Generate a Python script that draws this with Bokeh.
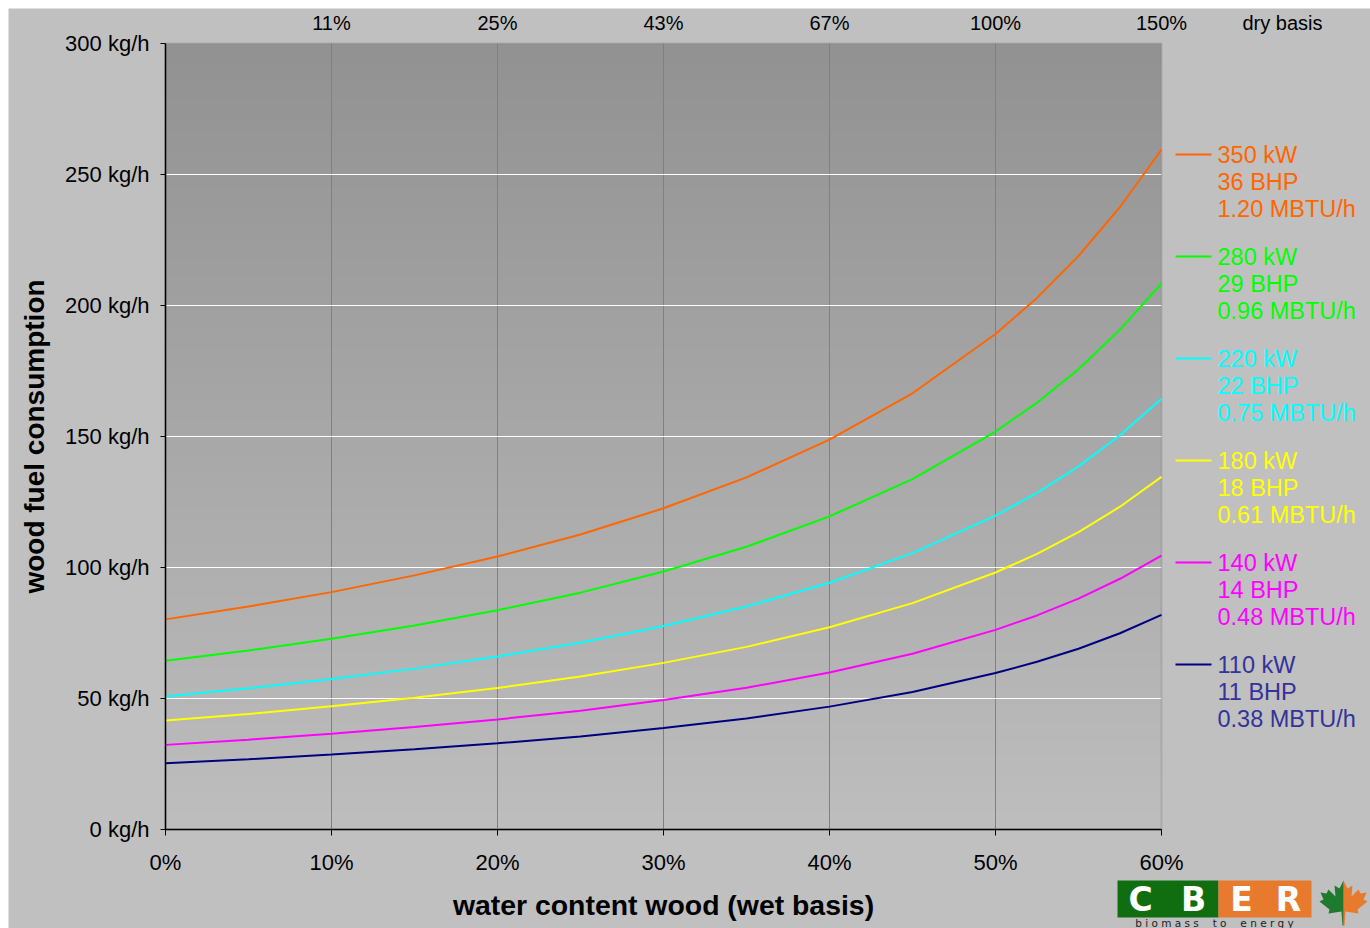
import numpy as np
from bokeh.plotting import figure
from bokeh.models import (Range1d, FixedTicker, LinearAxis, Label, Arrow,
                          BoxAnnotation, PolyAnnotation)
from bokeh.embed import file_html
from bokeh.resources import INLINE

# ---------------- data ----------------
water_wet_pct = [0, 5, 10, 15, 20, 25, 30, 35, 40, 45, 50, 52.5, 55, 57.5, 60]
fuel_350kw = [80.2, 85.1, 90.6, 97.0, 104.2, 112.6, 122.6, 134.4, 148.8, 166.5, 189.1, 202.9, 218.9, 237.6, 259.5]
fuel_280kw = [64.4, 68.3, 72.8, 77.9, 83.7, 90.4, 98.5, 107.9, 119.5, 133.7, 151.9, 162.9, 175.7, 190.8, 208.4]
fuel_220kw = [50.8, 53.9, 57.4, 61.4, 66.0, 71.3, 77.7, 85.1, 94.2, 105.5, 119.8, 128.5, 138.6, 150.5, 164.4]
fuel_180kw = [41.6, 44.1, 47.0, 50.3, 54.0, 58.4, 63.6, 69.7, 77.2, 86.4, 98.1, 105.2, 113.5, 123.2, 134.6]
fuel_140kw = [32.3, 34.3, 36.5, 39.1, 42.0, 45.3, 49.4, 54.1, 59.9, 67.1, 76.2, 81.7, 88.1, 95.7, 104.5]
fuel_110kw = [25.3, 26.8, 28.6, 30.6, 32.9, 35.5, 38.7, 42.4, 46.9, 52.5, 59.7, 64.0, 69.0, 74.9, 81.9]

series_values = [fuel_350kw, fuel_280kw, fuel_220kw, fuel_180kw, fuel_140kw, fuel_110kw]
series_kw = ["350 kW", "280 kW", "220 kW", "180 kW", "140 kW", "110 kW"]
series_bhp = ["36 BHP", "29 BHP", "22 BHP", "18 BHP", "14 BHP", "11 BHP"]
series_mbtu = ["1.20 MBTU/h", "0.96 MBTU/h", "0.75 MBTU/h", "0.61 MBTU/h", "0.48 MBTU/h", "0.38 MBTU/h"]
line_colors = ["#FF6600", "#00FF00", "#00FFFF", "#FFFF00", "#FF00FF", "#000080"]
text_colors = ["#FF6600", "#00FF00", "#00FFFF", "#FFFF00", "#FF00FF", "#333399"]

x_ticks = [0, 10, 20, 30, 40, 50, 60]
x_tick_labels = ["0%", "10%", "20%", "30%", "40%", "50%", "60%"]
dry_ticks = [10, 20, 30, 40, 50, 60]
dry_tick_labels = ["11%", "25%", "43%", "67%", "100%", "150%"]
dry_caption = "dry basis"
y_ticks = [0, 50, 100, 150, 200, 250, 300]
y_tick_labels = ["0 kg/h", "50 kg/h", "100 kg/h", "150 kg/h", "200 kg/h", "250 kg/h", "300 kg/h"]

X_MIN, X_MAX = 0, 60
Y_MIN, Y_MAX = 0, 300

FONT = "Liberation Sans"
BG = "#c0c0c0"

# ---------------- layout helpers (page pixels -> data space) ----------------
PX_X0, PX_X1 = 165, 1161       # plot-area left / right on the page
PX_Y0, PX_Y1 = 829, 43         # plot-area bottom / top on the page
PAGE_W, PAGE_H = 1370, 928
MARGIN = 8


def dx(px):
    return X_MIN + (px - PX_X0) * (X_MAX - X_MIN) / (PX_X1 - PX_X0)


def dy(py):
    return Y_MIN + (PX_Y0 - py) * (Y_MAX - Y_MIN) / (PX_Y0 - PX_Y1)


# the frame covers the whole canvas, so that the axes, legend and logo are
# never clipped; axes/grids are fixed and bounded to the real plot area
p = figure(width=PAGE_W - MARGIN, height=PAGE_H - MARGIN,
           x_range=Range1d(dx(MARGIN), dx(PAGE_W)),
           y_range=Range1d(dy(PAGE_H), dy(MARGIN)),
           output_backend="svg", toolbar_location=None,
           min_border_left=0, min_border_right=0,
           min_border_top=0, min_border_bottom=0,
           background_fill_color=BG, border_fill_color=BG,
           outline_line_color=None)
p.margin = (MARGIN, 0, 0, MARGIN)

# plot-area vertical gradient (dark top -> light bottom)
N = 256
grey = np.linspace(190, 146, N).astype(np.uint8)
img = np.empty((N, 1), dtype=np.uint32)
view = img.view(dtype=np.uint8).reshape((N, 1, 4))
view[:, 0, 0] = grey
view[:, 0, 1] = grey
view[:, 0, 2] = grey
view[:, 0, 3] = 255
p.image_rgba(image=[img], x=X_MIN, y=Y_MIN, dw=X_MAX - X_MIN, dh=Y_MAX - Y_MIN, level="image")

# grids
p.xgrid.ticker = FixedTicker(ticks=x_ticks[1:-1])
p.xgrid.grid_line_color = "#808080"
p.xgrid.grid_line_width = 1
p.ygrid.ticker = FixedTicker(ticks=y_ticks[1:-1])
p.ygrid.grid_line_color = "white"
p.ygrid.grid_line_width = 1
try:
    p.xgrid.cross_bounds = (Y_MIN, Y_MAX)
    p.ygrid.cross_bounds = (X_MIN, X_MAX)
except Exception:
    p.xgrid.visible = False
    p.ygrid.visible = False
    gx = x_ticks[1:-1]
    p.segment(x0=gx, x1=gx, y0=[Y_MIN] * len(gx), y1=[Y_MAX] * len(gx),
              line_color="#808080", line_width=1, level="underlay")
    gy = y_ticks[1:-1]
    p.segment(x0=[X_MIN] * len(gy), x1=[X_MAX] * len(gy), y0=gy, y1=gy,
              line_color="white", line_width=1, level="underlay")

# plot-area border (top / right visible; left / bottom covered by axes)
p.add_layout(BoxAnnotation(left=X_MIN, right=X_MAX, bottom=Y_MIN, top=Y_MAX,
                           fill_alpha=0, line_color="#808080", line_width=2,
                           level="underlay"))

# lines
for vals, col in zip(series_values, line_colors):
    p.line(water_wet_pct, vals, line_color=col, line_width=2)

# bottom axis (fixed at y=0, bounded to the plot area)
xa = p.xaxis[0]
xa.fixed_location = Y_MIN
xa.bounds = (X_MIN, X_MAX)
xa.ticker = FixedTicker(ticks=x_ticks)
xa.major_label_overrides = dict(zip(x_ticks, x_tick_labels))
xa.axis_line_color = "black"
xa.axis_line_width = 1.5
xa.major_tick_line_color = "black"
xa.major_tick_out = 6
xa.major_tick_in = 0
xa.minor_tick_line_color = None
xa.major_label_text_font = FONT
xa.major_label_text_font_size = "22px"
xa.major_label_text_color = "black"
xa.major_label_standoff = 14
xa.axis_label = "water content wood (wet basis)"
xa.axis_label_text_font = FONT
xa.axis_label_text_font_size = "28.4px"
xa.axis_label_text_font_style = "bold"
xa.axis_label_text_color = "black"
xa.axis_label_standoff = 11

# left axis (fixed at x=0, bounded to the plot area)
ya = p.yaxis[0]
ya.fixed_location = X_MIN
ya.bounds = (Y_MIN, Y_MAX)
ya.ticker = FixedTicker(ticks=y_ticks)
ya.major_label_overrides = dict(zip(y_ticks, y_tick_labels))
ya.axis_line_color = "black"
ya.axis_line_width = 1.5
ya.major_tick_line_color = "black"
ya.major_tick_out = 5
ya.major_tick_in = 0
ya.minor_tick_line_color = None
ya.major_label_text_font = FONT
ya.major_label_text_font_size = "22px"
ya.major_label_text_color = "black"
ya.major_label_standoff = 11
ya.axis_label = "wood fuel consumption"
ya.axis_label_text_font = FONT
ya.axis_label_text_font_size = "28px"
ya.axis_label_text_font_style = "bold"
ya.axis_label_text_color = "black"
ya.axis_label_standoff = 12

# top axis: dry-basis moisture, plus its caption (fixed at the plot-area top)
caption_x = dx(1282)
top_ticks = dry_ticks + [caption_x]
top_labels = dry_tick_labels + [dry_caption]
top = LinearAxis(ticker=FixedTicker(ticks=top_ticks),
                 major_label_overrides=dict(zip(top_ticks, top_labels)),
                 fixed_location=Y_MAX)
top.axis_line_color = None
top.major_tick_line_color = None
top.minor_tick_line_color = None
top.major_tick_out = 0
top.major_tick_in = 0
top.major_label_text_font = FONT
top.major_label_text_font_size = "20px"
top.major_label_text_color = "black"
top.major_label_standoff = 10
p.add_layout(top, "above")

# legend (right side)
mark_x0, mark_x1, text_x = dx(1175), dx(1211), dx(1217)
for i in range(len(series_kw)):
    yc_px = 154 + i * 102
    yc = dy(yc_px)
    p.add_layout(Arrow(x_start=mark_x0, y_start=yc, x_end=mark_x1, y_end=yc,
                       start=None, end=None, line_color=line_colors[i], line_width=2))
    for j, t in enumerate([series_kw[i], series_bhp[i], series_mbtu[i]]):
        p.add_layout(Label(x=text_x, y=dy(yc_px + 27 * j), text=t, text_font=FONT,
                           text_font_size="23.5px", text_color=text_colors[i],
                           text_align="left", text_baseline="middle"))

# CBER logo (bottom right)
p.add_layout(BoxAnnotation(left=dx(1117), right=dx(1218), bottom=dy(917), top=dy(880),
                           fill_color="#106E10", fill_alpha=1, line_color=None))
p.add_layout(BoxAnnotation(left=dx(1218), right=dx(1311), bottom=dy(917), top=dy(880),
                           fill_color="#E87A2E", fill_alpha=1, line_color=None))
for letter, cx in zip(["C", "B", "E", "R"], [1140, 1193, 1241, 1288]):
    p.add_layout(Label(x=dx(cx), y=dy(899), text=letter, text_font="DejaVu Sans",
                       text_font_style="bold", text_font_size="33px", text_color="white",
                       text_align="center", text_baseline="middle"))
p.add_layout(Label(x=dx(1214), y=dy(916.5),
                   text="b i o m a s s \u2003t o \u2003e n e r g y",
                   text_font="DejaVu Sans", text_font_size="10.5px", text_color="#222222",
                   text_align="center", text_baseline="top"))

# maple leaf (right half orange, left half green), outline in page pixels
leaf_cx = 1343
leaf_half = [(0, 880), (4, 888), (9, 885), (8, 896), (15, 889), (17, 893), (23, 892),
             (20, 899), (24, 901), (14, 909), (15, 913), (2, 911), (1, 925), (0, 925)]
for sign, col in [(1, "#E87A2E"), (-1, "#1E7A2E")]:
    xs = [dx(leaf_cx + sign * ox) for ox, _ in leaf_half]
    ys = [dy(oy) for _, oy in leaf_half]
    p.add_layout(PolyAnnotation(xs=xs, ys=ys, fill_color=col, fill_alpha=1, line_color=None))

open("out.html", "w").write(file_html(p, INLINE))
